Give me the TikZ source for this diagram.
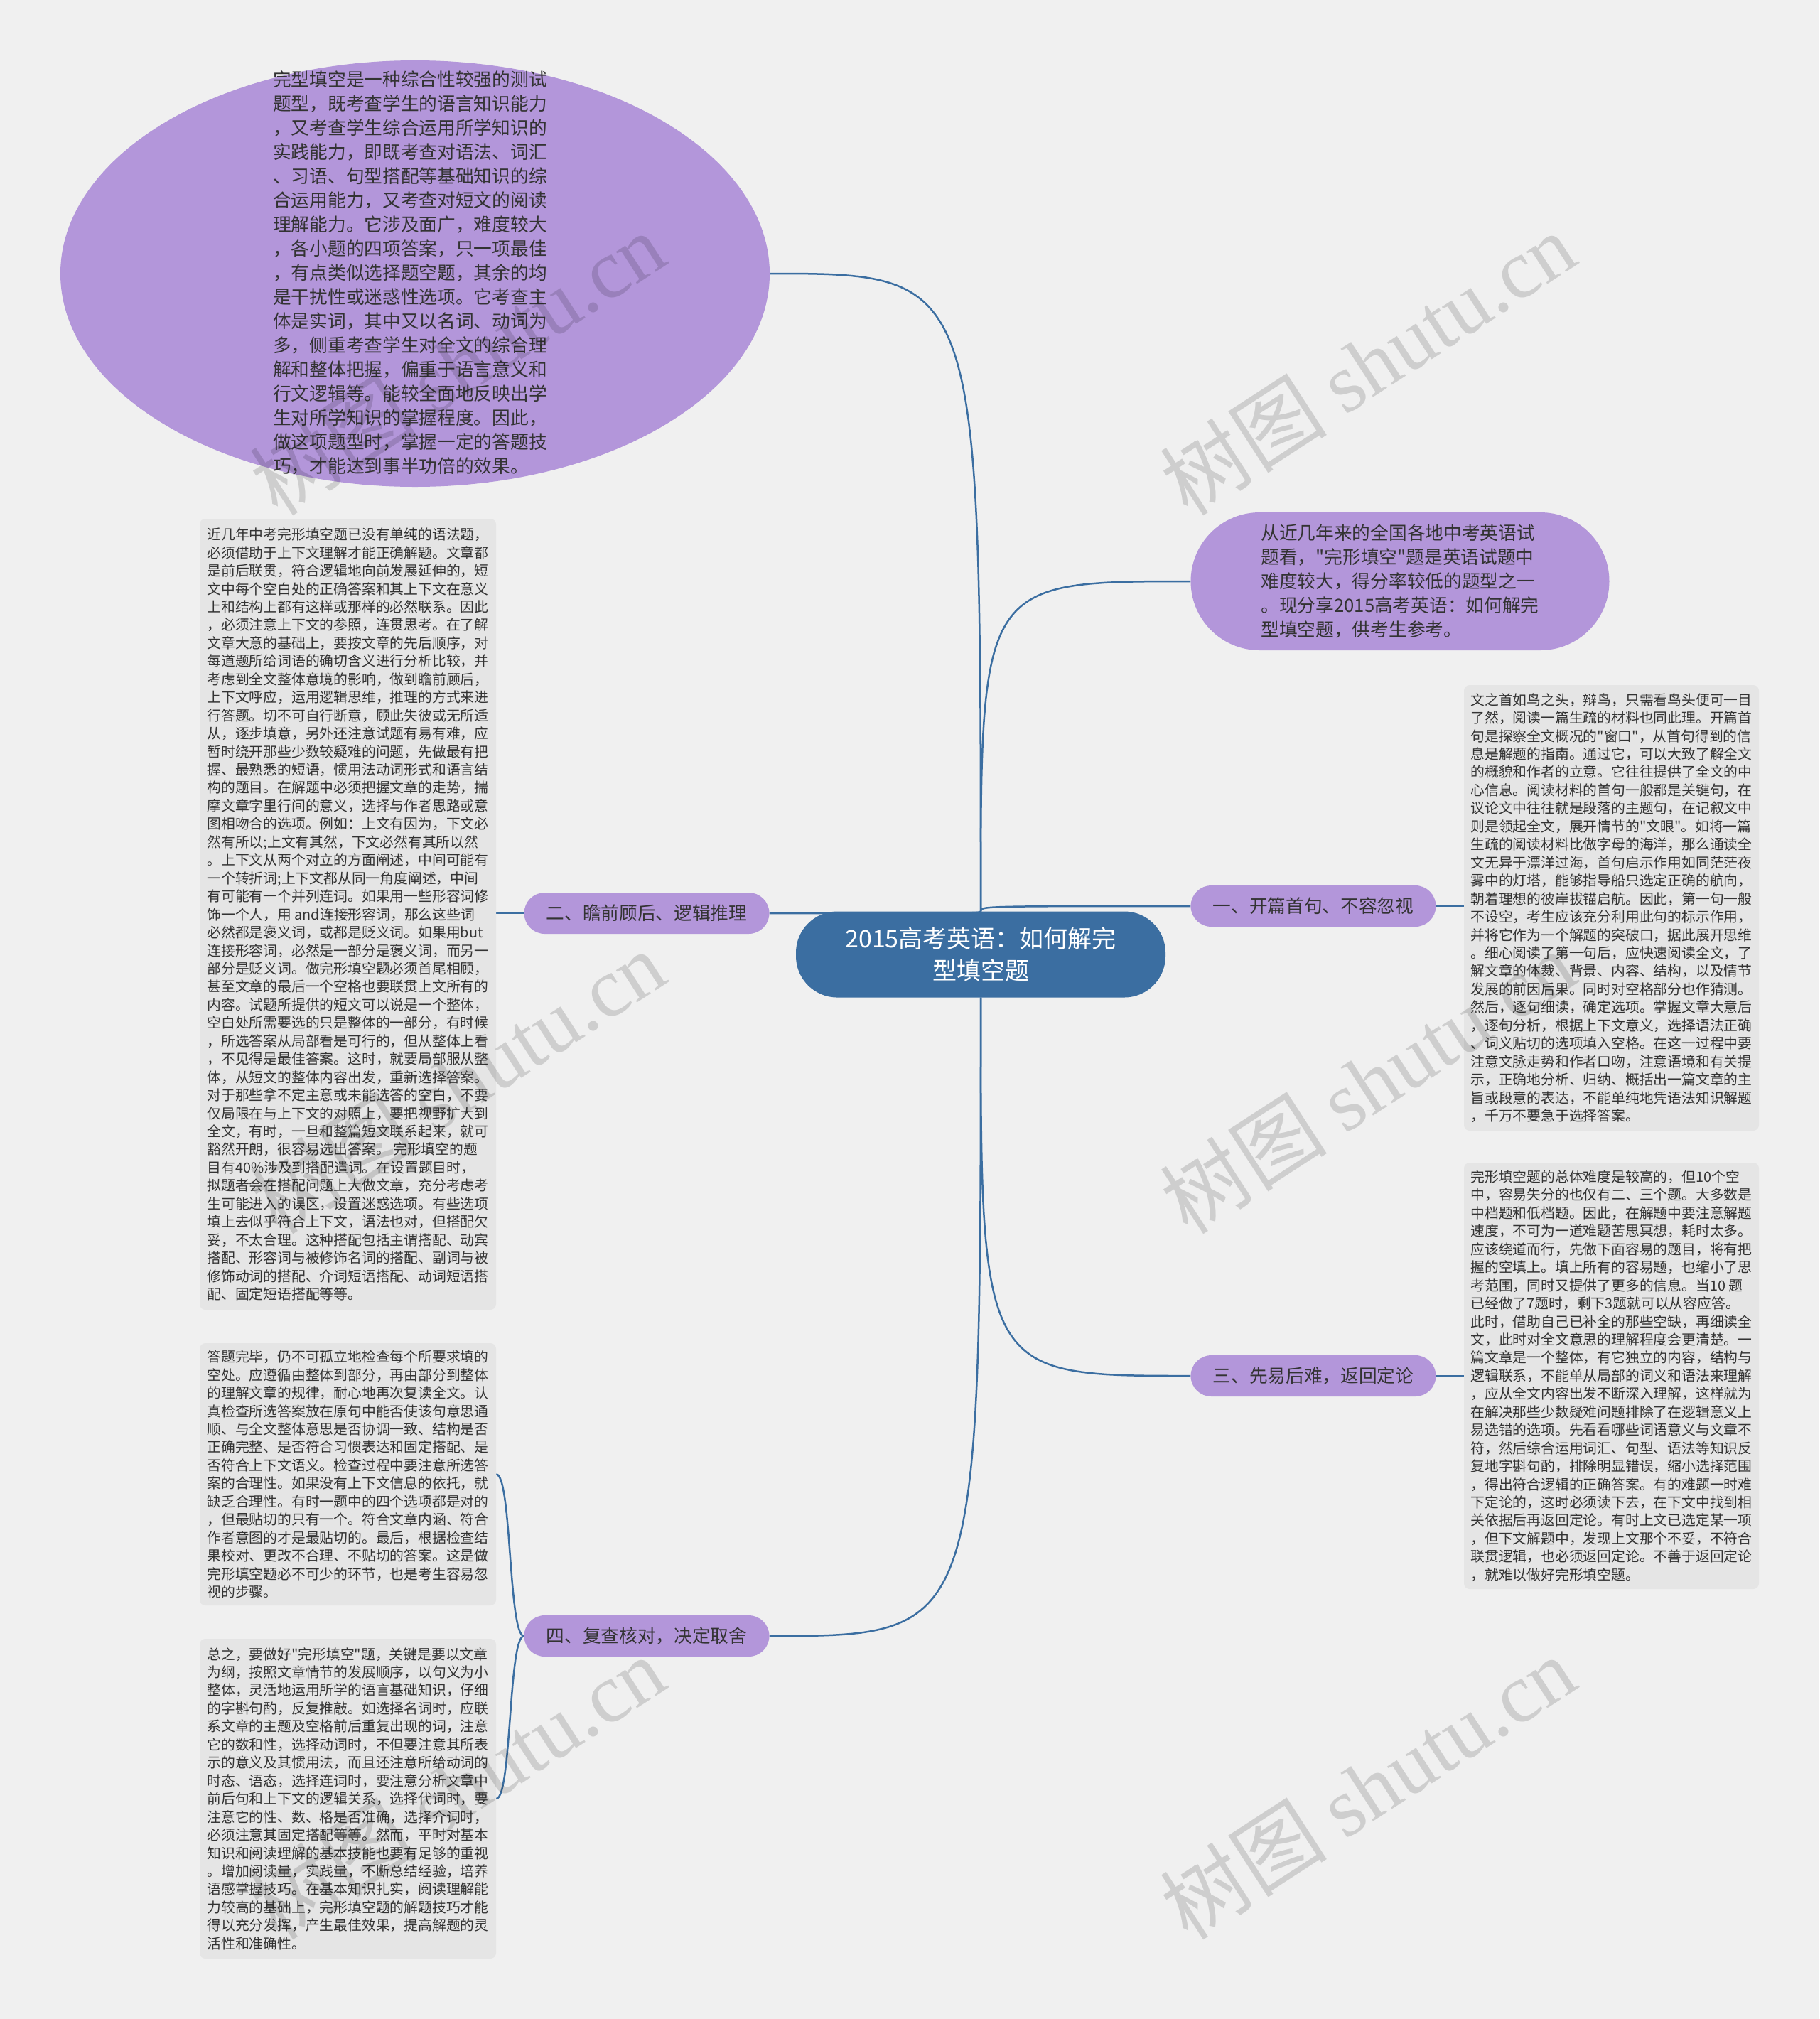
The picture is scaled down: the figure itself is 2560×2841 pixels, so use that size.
\documentclass[tikz,border=0pt]{standalone}
\usepackage{fontspec}
\newfontfamily\cjk{Noto Sans CJK SC}
\newfontfamily\wmserif{Liberation Serif}
\usetikzlibrary{shapes.geometric,backgrounds}
\definecolor{bgc}{RGB}{240,240,240}
\definecolor{purp}{RGB}{179,150,218}
\definecolor{rootblue}{RGB}{59,110,161}
\definecolor{leafgray}{RGB}{229,229,229}
\definecolor{txt}{RGB}{51,51,51}
\begin{document}
\begin{tikzpicture}[x=1pt,y=-1pt,
  leaf/.style={fill=leafgray, rounded corners=8pt, inner sep=0pt, align=left, text=txt,
    font=\cjk\fontsize{19.8}{25.45}\selectfont},
  branch/.style={fill=purp, rounded corners=29pt, minimum width=345pt, minimum height=58pt,
    inner sep=0pt, text=txt, font=\cjk\fontsize{25.7}{30}\selectfont},
  bigtext/.style={align=left, text=txt, inner sep=0pt, font=\cjk\fontsize{25.7}{34}\selectfont},
  link/.style={draw=rootblue, line width=2.5pt},
  wm/.style={rotate=33, text=black, text opacity=0.14, inner sep=0pt}
]
\useasboundingbox (0,0) rectangle (2560,2841);

% root
\node[fill=rootblue, rounded corners=58pt, minimum width=520pt, minimum height=121pt, inner sep=0pt,
  text=white, align=center, font=\cjk\fontsize{34}{45}\selectfont] (root) at (1380,1343)
  {2015高考英语：如何解完\\型填空题};

% top ellipse
\node[ellipse, fill=purp, minimum width=998pt, minimum height=600pt, inner sep=0pt] (topell) at (584,385) {};
\node[bigtext] (topelltext) at (577,384) {完型填空是一种综合性较强的测试\\
题型，既考查学生的语言知识能力\\
，又考查学生综合运用所学知识的\\
实践能力，即既考查对语法、词汇\\
、习语、句型搭配等基础知识的综\\
合运用能力，又考查对短文的阅读\\
理解能力。它涉及面广，难度较大\\
，各小题的四项答案，只一项最佳\\
，有点类似选择题空题，其余的均\\
是干扰性或迷惑性选项。它考查主\\
体是实词，其中又以名词、动词为\\
多，侧重考查学生对全文的综合理\\
解和整体把握，偏重于语言意义和\\
行文逻辑等。能较全面地反映出学\\
生对所学知识的掌握程度。因此，\\
做这项题型时，掌握一定的答题技\\
巧，才能达到事半功倍的效果。};

% top right pill
\node[fill=purp, rounded corners=97pt, minimum width=589pt, minimum height=194pt, inner sep=0pt,
  bigtext] (intro) at (1970,818) {从近几年来的全国各地中考英语试\\
题看，"完形填空"题是英语试题中\\
难度较大，得分率较低的题型之一\\
。现分享2015高考英语：如何解完\\
型填空题，供考生参考。};

% branches
\node[branch] (b1) at (1848,1275) {一、开篇首句、不容忽视};
\node[branch] (b2) at (910,1285) {二、瞻前顾后、逻辑推理};
\node[branch] (b3) at (1848,1936) {三、先易后难，返回定论};
\node[branch] (b4) at (910,2302) {四、复查核对，决定取舍};

% leaves
\node[leaf, minimum width=415pt, minimum height=627pt] (r1) at (2267.5,1277.5) {文之首如鸟之头，辩鸟，只需看鸟头便可一目\\
了然，阅读一篇生疏的材料也同此理。开篇首\\
句是探察全文概况的"窗口"，从首句得到的信\\
息是解题的指南。通过它，可以大致了解全文\\
的概貌和作者的立意。它往往提供了全文的中\\
心信息。阅读材料的首句一般都是关键句，在\\
议论文中往往就是段落的主题句，在记叙文中\\
则是领起全文，展开情节的"文眼"。如将一篇\\
生疏的阅读材料比做字母的海洋，那么通读全\\
文无异于漂洋过海，首句启示作用如同茫茫夜\\
雾中的灯塔，能够指导船只选定正确的航向，\\
朝着理想的彼岸拔锚启航。因此，第一句一般\\
不设空，考生应该充分利用此句的标示作用，\\
并将它作为一个解题的突破口，据此展开思维\\
。细心阅读了第一句后，应快速阅读全文，了\\
解文章的体裁、背景、内容、结构，以及情节\\
发展的前因后果。同时对空格部分也作猜测。\\
然后，逐句细读，确定选项。掌握文章大意后\\
，逐句分析，根据上下文意义，选择语法正确\\
、词义贴切的选项填入空格。在这一过程中要\\
注意文脉走势和作者口吻，注意语境和有关提\\
示，正确地分析、归纳、概括出一篇文章的主\\
旨或段意的表达，不能单纯地凭语法知识解题\\
，千万不要急于选择答案。};

\node[leaf, minimum width=415pt, minimum height=600pt] (r3) at (2267.5,1936) {完形填空题的总体难度是较高的，但10个空\\
中，容易失分的也仅有二、三个题。大多数是\\
中档题和低档题。因此，在解题中要注意解题\\
速度，不可为一道难题苦思冥想，耗时太多。\\
应该绕道而行，先做下面容易的题目，将有把\\
握的空填上。填上所有的容易题，也缩小了思\\
考范围，同时又提供了更多的信息。当10 题\\
已经做了7题时，剩下3题就可以从容应答。\\
此时，借助自己已补全的那些空缺，再细读全\\
文，此时对全文意思的理解程度会更清楚。一\\
篇文章是一个整体，有它独立的内容，结构与\\
逻辑联系，不能单从局部的词义和语法来理解\\
，应从全文内容出发不断深入理解，这样就为\\
在解决那些少数疑难问题排除了在逻辑意义上\\
易选错的选项。先看看哪些词语意义与文章不\\
符，然后综合运用词汇、句型、语法等知识反\\
复地字斟句酌，排除明显错误，缩小选择范围\\
，得出符合逻辑的正确答案。有的难题一时难\\
下定论的，这时必须读下去，在下文中找到相\\
关依据后再返回定论。有时上文已选定某一项\\
，但下文解题中，发现上文那个不妥，不符合\\
联贯逻辑，也必须返回定论。不善于返回定论\\
，就难以做好完形填空题。};

\node[leaf, minimum width=417pt, minimum height=1113pt] (l2) at (489.5,1286.5) {近几年中考完形填空题已没有单纯的语法题，\\
必须借助于上下文理解才能正确解题。文章都\\
是前后联贯，符合逻辑地向前发展延伸的，短\\
文中每个空白处的正确答案和其上下文在意义\\
上和结构上都有这样或那样的必然联系。因此\\
，必须注意上下文的参照，连贯思考。在了解\\
文章大意的基础上，要按文章的先后顺序，对\\
每道题所给词语的确切含义进行分析比较，并\\
考虑到全文整体意境的影响，做到瞻前顾后，\\
上下文呼应，运用逻辑思维，推理的方式来进\\
行答题。切不可自行断意，顾此失彼或无所适\\
从，逐步填意，另外还注意试题有易有难，应\\
暂时绕开那些少数较疑难的问题，先做最有把\\
握、最熟悉的短语，惯用法动词形式和语言结\\
构的题目。在解题中必须把握文章的走势，揣\\
摩文章字里行间的意义，选择与作者思路或意\\
图相吻合的选项。例如：上文有因为，下文必\\
然有所以;上文有其然，下文必然有其所以然\\
。上下文从两个对立的方面阐述，中间可能有\\
一个转折词;上下文都从同一角度阐述，中间\\
有可能有一个并列连词。如果用一些形容词修\\
饰一个人，用 and连接形容词，那么这些词\\
必然都是褒义词，或都是贬义词。如果用but\\
连接形容词，必然是一部分是褒义词，而另一\\
部分是贬义词。做完形填空题必须首尾相顾，\\
甚至文章的最后一个空格也要联贯上文所有的\\
内容。试题所提供的短文可以说是一个整体，\\
空白处所需要选的只是整体的一部分，有时候\\
，所选答案从局部看是可行的，但从整体上看\\
，不见得是最佳答案。这时，就要局部服从整\\
体，从短文的整体内容出发，重新选择答案。\\
对于那些拿不定主意或未能选答的空白，不要\\
仅局限在与上下文的对照上，要把视野扩大到\\
全文，有时，一旦和整篇短文联系起来，就可\\
豁然开朗，很容易选出答案。 完形填空的题\\
目有40\%涉及到搭配遣词。在设置题目时，\\
拟题者会在搭配问题上大做文章，充分考虑考\\
生可能进入的误区，设置迷惑选项。有些选项\\
填上去似乎符合上下文，语法也对，但搭配欠\\
妥，不太合理。这种搭配包括主谓搭配、动宾\\
搭配、形容词与被修饰名词的搭配、副词与被\\
修饰动词的搭配、介词短语搭配、动词短语搭\\
配、固定短语搭配等等。};

\node[leaf, minimum width=417pt, minimum height=369pt] (l4a) at (489.5,2074.5) {答题完毕，仍不可孤立地检查每个所要求填的\\
空处。应遵循由整体到部分，再由部分到整体\\
的理解文章的规律，耐心地再次复读全文。认\\
真检查所选答案放在原句中能否使该句意思通\\
顺、与全文整体意思是否协调一致、结构是否\\
正确完整、是否符合习惯表达和固定搭配、是\\
否符合上下文语义。检查过程中要注意所选答\\
案的合理性。如果没有上下文信息的依托，就\\
缺乏合理性。有时一题中的四个选项都是对的\\
，但最贴切的只有一个。符合文章内涵、符合\\
作者意图的才是最贴切的。最后，根据检查结\\
果校对、更改不合理、不贴切的答案。这是做\\
完形填空题必不可少的环节，也是考生容易忽\\
视的步骤。};

\node[leaf, minimum width=417pt, minimum height=450pt] (l4b) at (489.5,2531) {总之，要做好"完形填空"题，关键是要以文章\\
为纲，按照文章情节的发展顺序，以句义为小\\
整体，灵活地运用所学的语言基础知识，仔细\\
的字斟句酌，反复推敲。如选择名词时，应联\\
系文章的主题及空格前后重复出现的词，注意\\
它的数和性，选择动词时，不但要注意其所表\\
示的意义及其惯用法，而且还注意所给动词的\\
时态、语态，选择连词时，要注意分析文章中\\
前后句和上下文的逻辑关系，选择代词时，要\\
注意它的性、数、格是否准确，选择介词时，\\
必须注意其固定搭配等等。然而，平时对基本\\
知识和阅读理解的基本技能也要有足够的重视\\
。增加阅读量，实践量，不断总结经验，培养\\
语感掌握技巧。在基本知识扎实，阅读理解能\\
力较高的基础上，完形填空题的解题技巧才能\\
得以充分发挥，产生最佳效果，提高解题的灵\\
活性和准确性。};

% background and connectors
\begin{scope}[on background layer]
  \fill[bgc] (0,0) rectangle (2560,2841);
  \draw[link] (root.north) .. controls (root.north |- topell.east) .. (topell.east);
  \draw[link] (root.north) .. controls (root.north |- intro.west) .. (intro.west);
  \draw[link] (root.north) .. controls (root.north |- b1.west) .. (b1.west);
  \draw[link] (root.north) .. controls (root.north |- b2.east) .. (b2.east);
  \draw[link] (root.south) .. controls (root.south |- b3.west) .. (b3.west);
  \draw[link] (root.south) .. controls (root.south |- b4.east) .. (b4.east);
  \draw[link] (b1.east) -- (b1.east -| r1.west);
  \draw[link] (b3.east) -- (b3.east -| r3.west);
  \draw[link] (b2.west) -- (b2.west -| l2.east);
  \draw[link] (b4.west) .. controls +(-22,0) and +(22,0) .. (l4a.east);
  \draw[link] (b4.west) .. controls +(-22,0) and +(22,0) .. (l4b.east);
\end{scope}

% watermarks
\foreach \i/\px/\py in {1/643/511, 2/643/1522, 3/643/2515, 4/1924/511, 5/1924/1522, 6/1924/2515}{
  \node[wm] (wm\i) at (\px,\py) {\cjk\fontsize{118}{125}\selectfont 树图 \wmserif shutu.cn};
}
\end{tikzpicture}
\end{document}
